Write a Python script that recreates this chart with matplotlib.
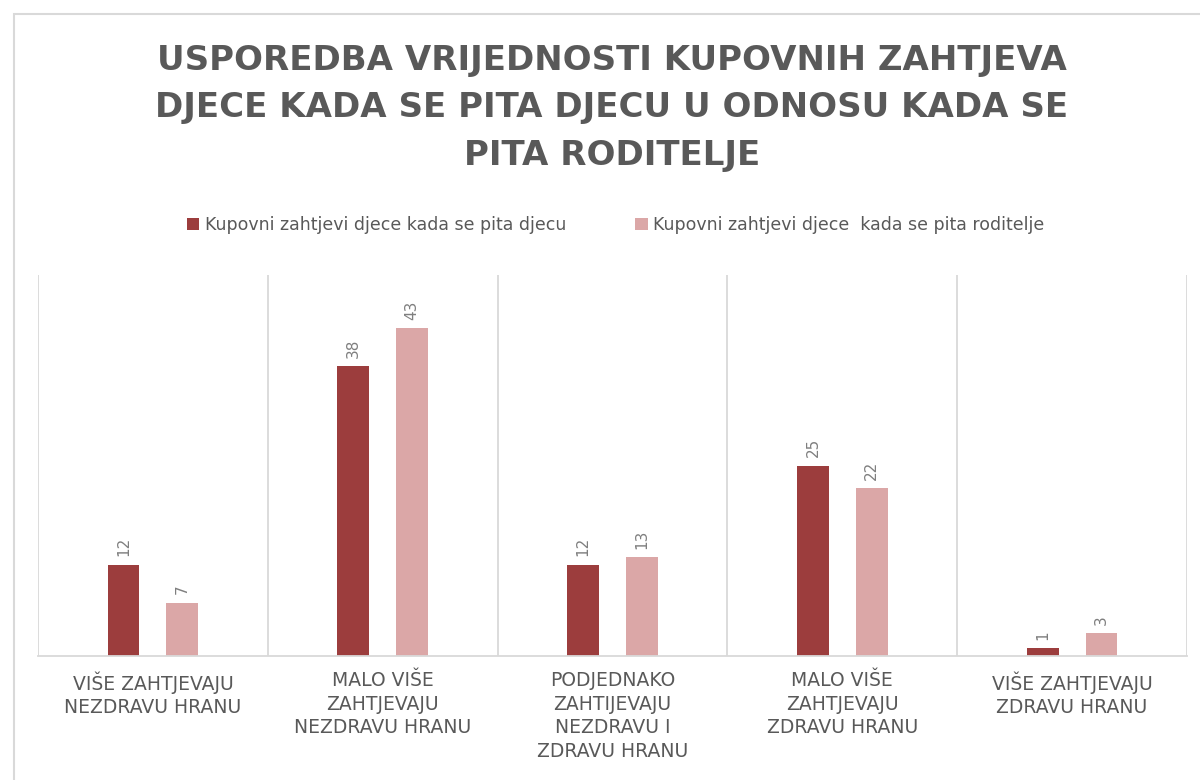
import numpy as np
import matplotlib.pyplot as plt
from matplotlib.patches import Rectangle

# Data
categories = [
    'VIŠE ZAHTJEVAJU\nNEZDRAVU HRANU',
    'MALO VIŠE\nZAHTJEVAJU\nNEZDRAVU HRANU',
    'PODJEDNAKO\nZAHTIJEVAJU\nNEZDRAVU I\nZDRAVU HRANU',
    'MALO VIŠE\nZAHTJEVAJU\nZDRAVU HRANU',
    'VIŠE ZAHTJEVAJU\nZDRAVU HRANU',
]
djeca = [12, 38, 12, 25, 1]
roditelji = [7, 43, 13, 22, 3]
series_names = ['Kupovni zahtjevi djece kada se pita djecu',
                'Kupovni zahtjevi djece  kada se pita roditelje']
title = 'USPOREDBA VRIJEDNOSTI KUPOVNIH ZAHTJEVA\nDJECE KADA SE PITA DJECU U ODNOSU KADA SE\nPITA RODITELJE'

dark = '#9c3d3d'
light = '#dba7a7'
grey_text = '#595959'
grid_col = '#d9d9d9'

fig = plt.figure(figsize=(12, 7.8), dpi=100)
W, H = 1200, 780

# chart frame
fig.patches.append(Rectangle((14 / W, -0.1), 1.2, 1 - 14 / H + 0.1, transform=fig.transFigure,
                             fill=False, edgecolor=grid_col, linewidth=1.5))

ax = fig.add_axes([38 / W, 1 - 656 / H, (1187 - 38) / W, (656 - 275) / H])
x = np.arange(len(categories))
bw = 0.139
off = 0.128
b1 = ax.bar(x - off, djeca, bw, color=dark, label=series_names[0])
b2 = ax.bar(x + off, roditelji, bw, color=light, label=series_names[1])

for bars in (b1, b2):
    for rect in bars:
        v = rect.get_height()
        ax.annotate(str(int(v)), (rect.get_x() + rect.get_width() / 2, v),
                    xytext=(0, 6), textcoords='offset points', rotation=90,
                    ha='center', va='bottom', fontsize=11, color='#7f7f7f')

ax.set_xlim(-0.5, len(categories) - 0.5)
ax.set_ylim(0, 50)
for b in np.arange(-0.5, len(categories), 1.0):
    ax.axvline(b, color=grid_col, linewidth=1.3, zorder=0)
for s in ['top', 'right', 'left']:
    ax.spines[s].set_visible(False)
ax.spines['bottom'].set_color(grid_col)
ax.spines['bottom'].set_linewidth(1.3)
ax.set_yticks([])
ax.set_xticks(x)
ax.set_xticklabels(categories, fontsize=13.5, color=grey_text, linespacing=1.3)
ax.tick_params(axis='x', length=0, pad=11)

fig.text(0.51, 1 - 108 / H, title, ha='center', va='center', fontsize=24.5,
         fontweight='bold', color=grey_text, linespacing=1.55)

fig.legend(handles=[b1, b2], loc='center', bbox_to_anchor=(0.513, 1 - 225 / H), ncol=2,
           frameon=False, fontsize=12.5, labelcolor=grey_text, handlelength=0.7,
           handleheight=0.7, handletextpad=0.3, columnspacing=4.0)

fig.savefig('out.png', dpi=100, facecolor='white')
